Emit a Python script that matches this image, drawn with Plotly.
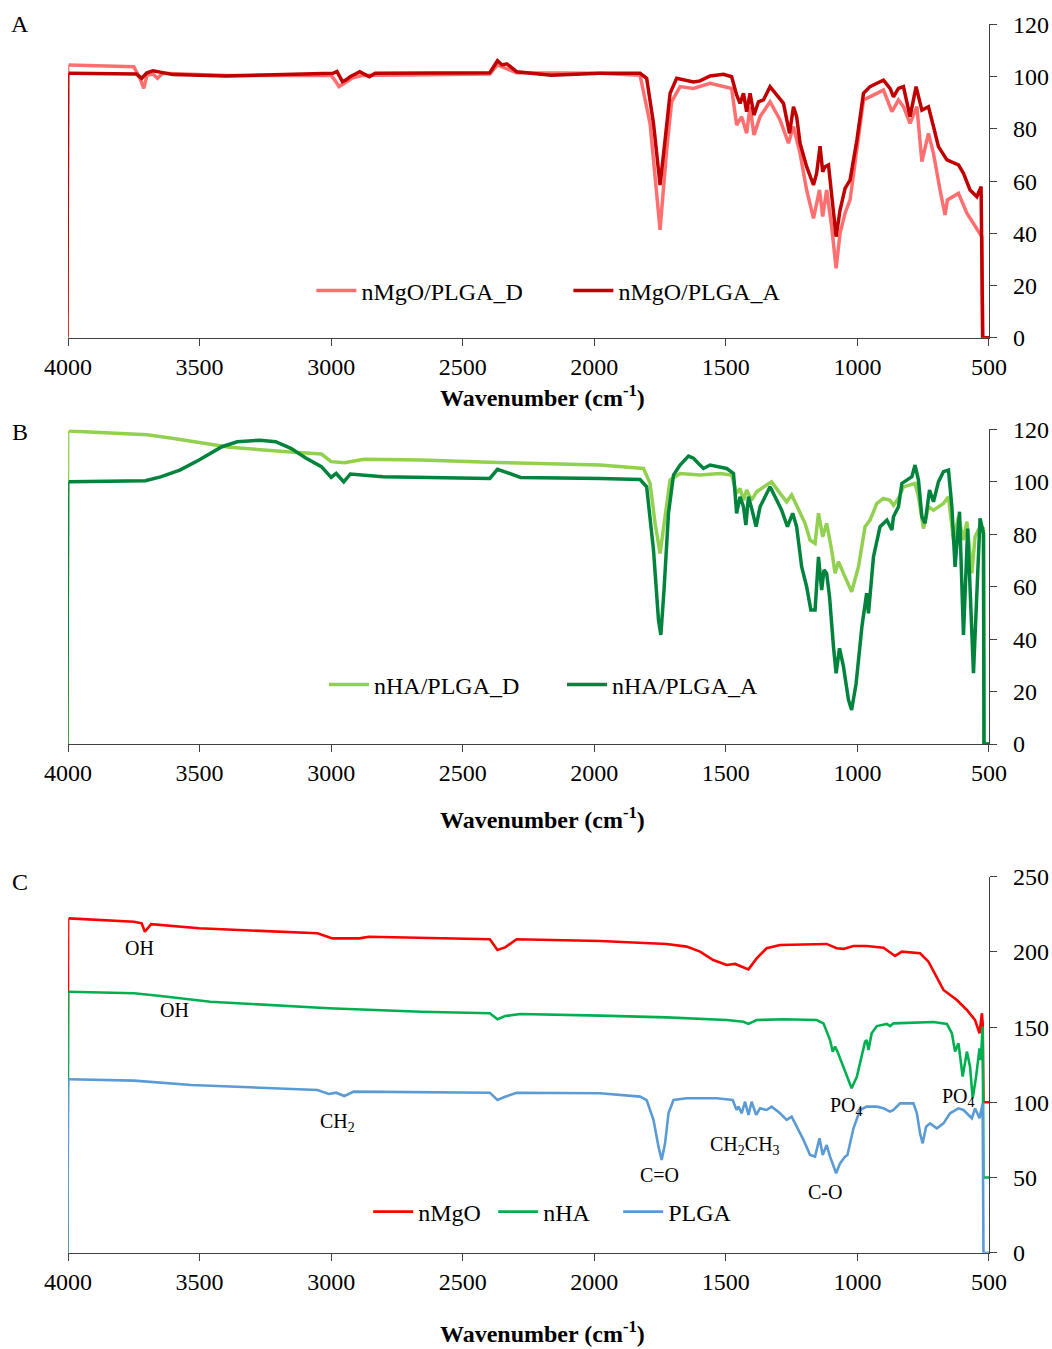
import plotly.graph_objects as go

# ---------------- Panel A : nMgO/PLGA ----------------
a_d_wn = [4000, 3997, 3800, 3750, 3725, 3712, 3700, 3677, 3660, 3640, 3400, 3000, 2985, 2970, 2950, 2920, 2880,
          2397, 2368, 2330, 2295, 1978, 1826, 1788, 1750, 1725, 1706, 1674, 1623, 1560, 1478, 1459, 1440, 1421,
          1408, 1393, 1370, 1332, 1294, 1262, 1243, 1218, 1193, 1167, 1144, 1132, 1117, 1098, 1081, 1066, 1047,
          1028, 1002, 977, 926, 901, 869, 844, 825, 800, 774, 755, 730, 711, 686, 667, 658, 616, 584, 559, 534,
          527, 524, 500]
a_d_val = [0, 104.5, 104.0, 103.8, 99.0, 95.5, 100.5, 101.0, 99.4, 101.3, 100.5, 100.5, 98.5, 96.2, 97.5, 99.5,
           100.5, 101.0, 104.5, 103.0, 101.5, 101.3, 100.6, 82.0, 41.3, 71.9, 90.4, 96.2, 95.5, 97.5, 95.5, 81.5,
           84.7, 78.3, 88.5, 77.7, 84.7, 90.4, 83.4, 74.5, 80.9, 70.6, 56.6, 45.7, 56.6, 46.4, 56.6, 42.6, 26.6,
           40.0, 47.7, 52.8, 71.9, 91.1, 93.6, 94.9, 86.6, 91.1, 88.5, 82.1, 88.5, 67.5, 78.3, 70.6, 56.6, 47.0,
           52.8, 55.3, 47.7, 43.8, 40.0, 38.7, 0, 0]

a_a_wn = [4000, 3997, 3850, 3740, 3720, 3700, 3677, 3600, 3400, 3200, 2993, 2978, 2957, 2940, 2928, 2891, 2855,
          2833, 2600, 2397, 2368, 2350, 2332, 2295, 2164, 1978, 1826, 1801, 1775, 1750, 1731, 1712, 1687, 1649,
          1623, 1598, 1560, 1509, 1478, 1459, 1446, 1433, 1421, 1408, 1393, 1376, 1357, 1332, 1307, 1281, 1258,
          1243, 1231, 1218, 1193, 1167, 1155, 1142, 1132, 1123, 1110, 1098, 1081, 1066, 1047, 1028, 1002, 977,
          952, 926, 901, 876, 863, 844, 825, 800, 777, 755, 730, 711, 692, 660, 616, 597, 572, 546, 530, 524, 500]
a_a_val = [0, 101.3, 101.0, 101.0, 99.4, 101.5, 102.3, 100.8, 100.3, 100.8, 101.3, 102.0, 98.1, 99.0, 100.0,
           101.9, 100.0, 101.3, 101.4, 101.5, 106.1, 104.5, 104.9, 101.9, 100.6, 101.3, 101.3, 99.4, 82.1, 58.5,
           75.7, 93.6, 99.4, 98.7, 98.0, 98.4, 100.3, 100.9, 100.0, 93.0, 89.8, 93.6, 86.6, 93.6, 85.3, 90.4, 91.1,
           96.2, 93.0, 89.8, 78.3, 88.5, 84.7, 74.5, 65.5, 58.5, 63.0, 73.4, 63.6, 65.5, 66.2, 54.0, 38.7, 48.9,
           57.2, 60.4, 75.7, 93.6, 96.2, 97.5, 98.7, 95.5, 92.3, 95.5, 96.2, 84.7, 96.2, 87.2, 88.5, 80.9, 73.2,
           68.1, 66.2, 63.0, 56.6, 54.0, 57.9, 0, 0]

# ---------------- Panel B : nHA/PLGA ----------------
b_d_wn = [4000, 3997, 3749, 3700, 3604, 3386, 3168, 3037, 3000, 2949, 2876, 2658, 2368, 1978, 1813, 1788, 1769,
          1750, 1731, 1712, 1674, 1598, 1522, 1478, 1459, 1446, 1433, 1421, 1402, 1383, 1345, 1326, 1294, 1269,
          1250, 1224, 1199, 1180, 1161, 1148, 1132, 1117, 1098, 1085, 1072, 1053, 1022, 996, 971, 952, 926, 901,
          876, 863, 844, 825, 800, 781, 768, 749, 730, 711, 673, 654, 635, 616, 597, 584, 565, 553, 534, 521,
          519, 500]
b_d_val = [0, 119.4, 118.5, 118.0, 116.6, 113.2, 111.5, 110.6, 107.7, 107.3, 108.6, 108.3, 107.4, 106.4, 105.1,
           99.4, 84.2, 72.7, 86.7, 100.7, 103.2, 102.6, 103.2, 102.6, 95.6, 97.5, 93.0, 96.9, 93.0, 96.2, 98.8,
           100.0, 95.6, 92.4, 95.0, 89.2, 84.2, 77.8, 76.5, 88.0, 79.1, 84.2, 74.0, 65.1, 69.5, 65.1, 58.1, 67.6,
           82.9, 85.4, 91.8, 93.7, 93.0, 91.1, 93.7, 98.1, 98.8, 99.4, 94.3, 82.2, 90.5, 89.2, 91.8, 94.3, 77.8,
           86.7, 77.8, 84.8, 65.1, 79.1, 82.9, 82.2, 0, 0]

b_a_wn = [4000, 3997, 3706, 3648, 3575, 3502, 3415, 3357, 3270, 3211, 3153, 3095, 3037, 3000, 2981, 2952, 2927,
          2804, 2397, 2368, 2324, 2280, 1978, 1826, 1801, 1775, 1756, 1747, 1735, 1718, 1699, 1674, 1642, 1623,
          1604, 1585, 1560, 1528, 1497, 1471, 1459, 1446, 1433, 1424, 1414, 1402, 1385, 1370, 1345, 1332, 1313,
          1288, 1266, 1246, 1231, 1212, 1193, 1177, 1161, 1148, 1136, 1127, 1117, 1106, 1091, 1081, 1068, 1053,
          1034, 1022, 1005, 983, 965, 958, 939, 914, 888, 869, 863, 844, 831, 806, 793, 781, 768, 755, 743, 726,
          711, 692, 673, 654, 641, 629, 612, 597, 581, 559, 534, 521, 519, 500]
b_a_val = [0, 100.0, 100.4, 101.9, 104.5, 108.3, 113.4, 115.3, 115.9, 115.3, 112.8, 109.0, 105.8, 101.7, 103.2,
           100.0, 103.0, 101.9, 101.3, 104.8, 103.2, 101.7, 101.3, 100.9, 98.1, 74.0, 47.3, 41.6, 58.7, 88.0,
           102.6, 106.4, 109.8, 109.0, 107.0, 105.1, 106.4, 105.8, 105.1, 103.2, 88.0, 94.3, 90.5, 83.5, 94.3,
           89.9, 82.9, 90.5, 95.6, 98.1, 94.3, 89.2, 82.9, 88.0, 82.9, 67.6, 60.0, 51.1, 51.1, 71.4, 58.7, 66.4,
           65.1, 56.2, 37.1, 27.0, 36.5, 29.5, 16.8, 13.0, 23.1, 44.7, 57.5, 49.8, 71.4, 82.9, 85.4, 81.6, 86.7,
           90.5, 99.4, 101.3, 102.0, 106.4, 100.7, 86.7, 84.2, 96.9, 92.4, 100.0, 103.9, 104.5, 90.5, 67.6, 88.6,
           41.6, 82.2, 27.0, 86.1, 80.3, 0, 0]

# ---------------- Panel C : raw materials ----------------
c_mgo_wn = [4000, 3997, 3749, 3720, 3708, 3684, 3502, 3052, 2995, 2893, 2856, 2397, 2368, 2339, 2295, 1978, 1725,
            1649, 1598, 1548, 1497, 1465, 1433, 1414, 1383, 1345, 1294, 1218, 1117, 1079, 1053, 1015, 965, 901,
            857, 831, 762, 730, 711, 673, 622, 584, 553, 536, 527, 524, 521, 500]
c_mgo_val = [0, 222.3, 220.1, 219.0, 213.4, 218.5, 215.7, 212.4, 209.0, 209.0, 210.1, 208.4, 201.3, 203.0, 208.4,
             207.2, 205.3, 203.5, 200.2, 194.6, 191.3, 192.0, 189.7, 188.4, 195.7, 202.4, 204.6, 205.0, 205.3,
             202.4, 202.0, 203.9, 203.9, 202.8, 197.3, 200.2, 199.1, 193.5, 186.9, 174.7, 168.0, 161.4, 154.7,
             145.9, 159.2, 152.5, 100, 100]

c_ha_wn = [4000, 3997, 3749, 3648, 3575, 3459, 3009, 2658, 2397, 2368, 2339, 2280, 1978, 1725, 1497, 1433, 1414,
           1383, 1281, 1155, 1129, 1104, 1094, 1085, 1076, 1053, 1022, 1002, 983, 971, 965, 958, 946, 926, 888,
           876, 863, 774, 711, 660, 641, 629, 616, 600, 584, 572, 562, 549, 536, 531, 524, 521, 500]
c_ha_val = [0, 173.5, 172.5, 170.7, 169.1, 166.9, 162.5, 160.2, 159.2, 155.2, 157.4, 158.7, 157.6, 156.5, 154.7,
            153.6, 152.1, 154.7, 155.2, 154.7, 152.5, 141.4, 133.7, 137.0, 133.7, 123.7, 109.3, 117.1, 130.4,
            140.3, 141.4, 134.8, 145.9, 150.7, 152.1, 150.7, 152.5, 152.9, 153.4, 152.1, 145.9, 133.7, 139.2,
            117.1, 133.7, 123.7, 102.6, 117.1, 135.9, 128.1, 150.3, 50, 50]

c_plga_wn = [4000, 3997, 3749, 3531, 3052, 3009, 2981, 2950, 2914, 2397, 2368, 2339, 2295, 1978, 1826, 1801, 1775,
             1756, 1744, 1731, 1718, 1699, 1649, 1535, 1474, 1459, 1452, 1440, 1427, 1414, 1402, 1385, 1370, 1345,
             1326, 1294, 1269, 1250, 1231, 1205, 1180, 1161, 1144, 1132, 1117, 1104, 1081, 1066, 1047, 1038, 1015,
             990, 965, 926, 901, 876, 863, 838, 787, 774, 762, 752, 739, 724, 698, 673, 648, 616, 597, 584, 565,
             553, 536, 524, 521, 500]
c_plga_val = [0, 115.3, 114.4, 111.5, 108.2, 105.5, 106.4, 104.2, 107.1, 106.4, 101.5, 103.7, 106.4, 106.0, 103.8,
              101.5, 88.3, 70.5, 61.7, 72.7, 92.7, 101.5, 102.7, 102.7, 101.5, 94.9, 97.1, 92.7, 100.4, 91.6,
              100.4, 91.6, 96.0, 94.9, 97.1, 92.7, 88.3, 90.5, 83.8, 75.0, 65.0, 63.9, 76.1, 65.0, 71.6, 63.9, 52.8,
              59.4, 63.9, 65.0, 82.7, 94.9, 97.1, 97.1, 96.0, 93.8, 94.9, 99.3, 99.3, 92.7, 79.4, 72.7, 83.8, 86.0,
              82.7, 86.0, 92.7, 96.0, 94.9, 92.7, 89.4, 96.0, 89.4, 99.3, 0, 0]

# peak labels in panel C
c_lbl_text = ["OH", "OH", "CH<sub>2</sub>", "C=O", "CH<sub>2</sub>CH<sub>3</sub>", "C-O", "PO<sub>4</sub>", "PO<sub>4</sub>"]
c_lbl_wn = [3730, 3597, 2974, 1754, 1427, 1123, 1043, 617]
c_lbl_val = [202.6, 161.4, 86.8, 51.6, 71.6, 40.3, 96.9, 103.5]

x_ticks = [4000, 3500, 3000, 2500, 2000, 1500, 1000, 500]

FONT = "Liberation Serif"
fig = go.Figure()

panels = [
    ("x", "y", "legend", 3.5, [("nMgO/PLGA_D", a_d_wn, a_d_val, "#FF6F6F"),
                               ("nMgO/PLGA_A", a_a_wn, a_a_val, "#C00000")]),
    ("x2", "y2", "legend2", 3.5, [("nHA/PLGA_D", b_d_wn, b_d_val, "#92D050"),
                                  ("nHA/PLGA_A", b_a_wn, b_a_val, "#00843D")]),
    ("x3", "y3", "legend3", 2.6, [("nMgO", c_mgo_wn, c_mgo_val, "#FF0000"),
                                  ("nHA", c_ha_wn, c_ha_val, "#00B050"),
                                  ("PLGA", c_plga_wn, c_plga_val, "#5B9BD5")]),
]
for xa, ya, lg, lw, series in panels:
    for name, wn, val, col in series:
        fig.add_trace(go.Scatter(x=wn[1:], y=val[1:], mode="lines", name=name,
                                 line=dict(color=col, width=lw), xaxis=xa, yaxis=ya, legend=lg))
        fig.add_trace(go.Scatter(x=wn[:2], y=val[:2], mode="lines", showlegend=False,
                                 line=dict(color=col, width=1.3), xaxis=xa, yaxis=ya))

XD = [0.06464, 0.94011]
doms = {"A": [0.74967, 0.98184], "B": [0.44848, 0.68168], "C": [0.07138, 0.35011]}
axcol = "#404040"
xcommon = dict(range=[4000, 500], tickvals=x_ticks, showline=True, linecolor=axcol, linewidth=1.3,
               ticks="outside", ticklen=7, tickcolor=axcol, showgrid=False, zeroline=False, automargin=False,
               tickfont=dict(family=FONT, size=24, color="black"), domain=XD, ticklabelstandoff=0)
ycommon = dict(side="right", showline=True, linecolor=axcol, linewidth=1.3, ticks="outside", ticklen=7,
               tickcolor=axcol, showgrid=False, zeroline=False, automargin=False,
               tickfont=dict(family=FONT, size=24, color="black"), ticklabelstandoff=11)

fig.update_layout(
    xaxis=dict(**xcommon, anchor="y"),
    xaxis2=dict(**xcommon, anchor="y2"),
    xaxis3=dict(**xcommon, anchor="y3"),
    yaxis=dict(**ycommon, anchor="x", domain=doms["A"], range=[0, 120], dtick=20),
    yaxis2=dict(**ycommon, anchor="x2", domain=doms["B"], range=[0, 120], dtick=20),
    yaxis3=dict(**ycommon, anchor="x3", domain=doms["C"], range=[0, 250], dtick=50),
)

legfont = dict(family=FONT, size=24, color="black")
fig.update_layout(
    legend=dict(orientation="h", x=0.296, y=0.78429, xanchor="left", yanchor="middle", font=legfont,
                bgcolor="rgba(0,0,0,0)", entrywidth=202, entrywidthmode="pixels", itemwidth=40),
    legend2=dict(orientation="h", x=0.308, y=0.49222, xanchor="left", yanchor="middle", font=legfont,
                 bgcolor="rgba(0,0,0,0)", entrywidth=183, entrywidthmode="pixels", itemwidth=40),
    legend3=dict(orientation="h", x=0.350, y=0.10156, xanchor="left", yanchor="middle", font=legfont,
                 bgcolor="rgba(0,0,0,0)", itemwidth=40, entrywidth=70, entrywidthmode="pixels"),
)

ann = []
for letter, ypx in (("A", 24), ("B", 432), ("C", 882)):
    ann.append(dict(text=letter, x=20 / 1052, y=1 - ypx / 1349, xref="paper", yref="paper",
                    xanchor="center", yanchor="middle",
                    showarrow=False, font=dict(family=FONT, size=24, color="black")))
for ypx in (396, 818, 1332):
    ann.append(dict(text="<b>Wavenumber (cm<sup>-1</sup>)</b>", x=542 / 1052, y=1 - ypx / 1349,
                    xref="paper", yref="paper", showarrow=False, xanchor="center", yanchor="middle",
                    font=dict(family=FONT, size=24, color="black")))
for t, w, v in zip(c_lbl_text, c_lbl_wn, c_lbl_val):
    ann.append(dict(text=t, x=w, y=v, xref="x3", yref="y3", showarrow=False,
                    xanchor="center", yanchor="middle",
                    font=dict(family=FONT, size=20, color="black")))

fig.update_layout(annotations=ann, width=1052, height=1349, margin=dict(l=0, r=0, t=0, b=0),
                  paper_bgcolor="white", plot_bgcolor="white", font=dict(family=FONT))

fig.write_html("out.html")
